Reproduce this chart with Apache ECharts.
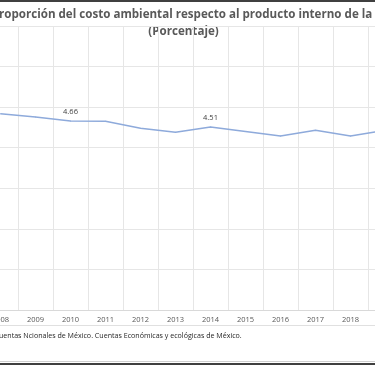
<!DOCTYPE html>
<html>
<head>
<meta charset="utf-8">
<script src="https://cdn.jsdelivr.net/npm/echarts@6/dist/echarts.min.js"></script>
<style>
html,body{margin:0;padding:0;background:#fff;overflow:hidden;width:375px;height:366px;}
#c{position:absolute;left:-17.5px;top:0;width:420px;height:366px;}
</style>
</head>
<body>
<div id="c"></div>
<script>
const years = ['2008','2009','2010','2011','2012','2013','2014','2015','2016','2017','2018','2019'];
const values = [4.84,4.76,4.66,4.65,4.48,4.38,4.51,4.40,4.29,4.43,4.29,4.43];
const labeledYears = ['2010','2014'];
const titleLine1 = 'Proporción del costo ambiental respecto al producto interno de la';
const titleLine2 = '(Porcentaje)';
const sourceText = 'Cuentas Ncionales de México. Cuentas Económicas y ecológicas de México.';

const OX = 17.5; // offset of the visible window inside the chart canvas
const chart = echarts.init(document.getElementById('c'), null, {renderer:'canvas'});
const font = '"Open Sans", sans-serif';
chart.setOption({
  animation:false,
  backgroundColor:'#fff',
  grid:{left:0, top:26, width:420, height:284, containLabel:false},
  xAxis:{
    type:'category', data:years, boundaryGap:true,
    axisLine:{show:true, lineStyle:{color:'#d9d9d9', width:1}},
    axisTick:{show:false},
    axisLabel:{color:'#595959', fontSize:7.5, fontFamily:font, margin:6},
    splitLine:{show:true, lineStyle:{color:'#e6e6e6', width:1}}
  },
  yAxis:{
    type:'value', min:0, max:7, interval:1,
    axisLine:{show:false}, axisTick:{show:false}, axisLabel:{show:false},
    splitLine:{show:true, lineStyle:{color:'#e6e6e6', width:1}}
  },
  series:[{
    type:'line',
    data: years.map((y,i)=>({value:values[i], label:{show: labeledYears.includes(y)}})),
    symbol:'circle', symbolSize:1, showSymbol:true,
    itemStyle:{color:'#8eaadb'},
    lineStyle:{color:'#8eaadb', width:1.5},
    label:{show:false, position:'top', distance:5, color:'#404040', fontSize:7.5, fontFamily:font, formatter:p=>p.value.toFixed(2)}
  }],
  graphic:[
    {type:'text', x:181.5+OX, y:15, style:{text:titleLine1, align:'center', verticalAlign:'middle', fill:'#595959', font:'bold 11.6px "Open Sans", sans-serif'}},
    {type:'text', x:183+OX, y:32, style:{text:titleLine2, align:'center', verticalAlign:'middle', fill:'#595959', font:'bold 11.6px "Open Sans", sans-serif'}},
    {type:'text', x:-6+OX, y:336, style:{text:sourceText, align:'left', verticalAlign:'middle', fill:'#262626', font:'7.1px "Open Sans", sans-serif'}},
    {type:'rect', shape:{x:0, y:0, width:420, height:2}, style:{fill:'#404040'}},
    {type:'rect', shape:{x:0, y:325, width:420, height:1}, style:{fill:'#e0e0e0'}},
    {type:'rect', shape:{x:0, y:361, width:420, height:1}, style:{fill:'#d0d0d0'}},
    {type:'rect', shape:{x:0, y:363, width:420, height:2}, style:{fill:'#404040'}}
  ]
});
</script>
</body>
</html>
